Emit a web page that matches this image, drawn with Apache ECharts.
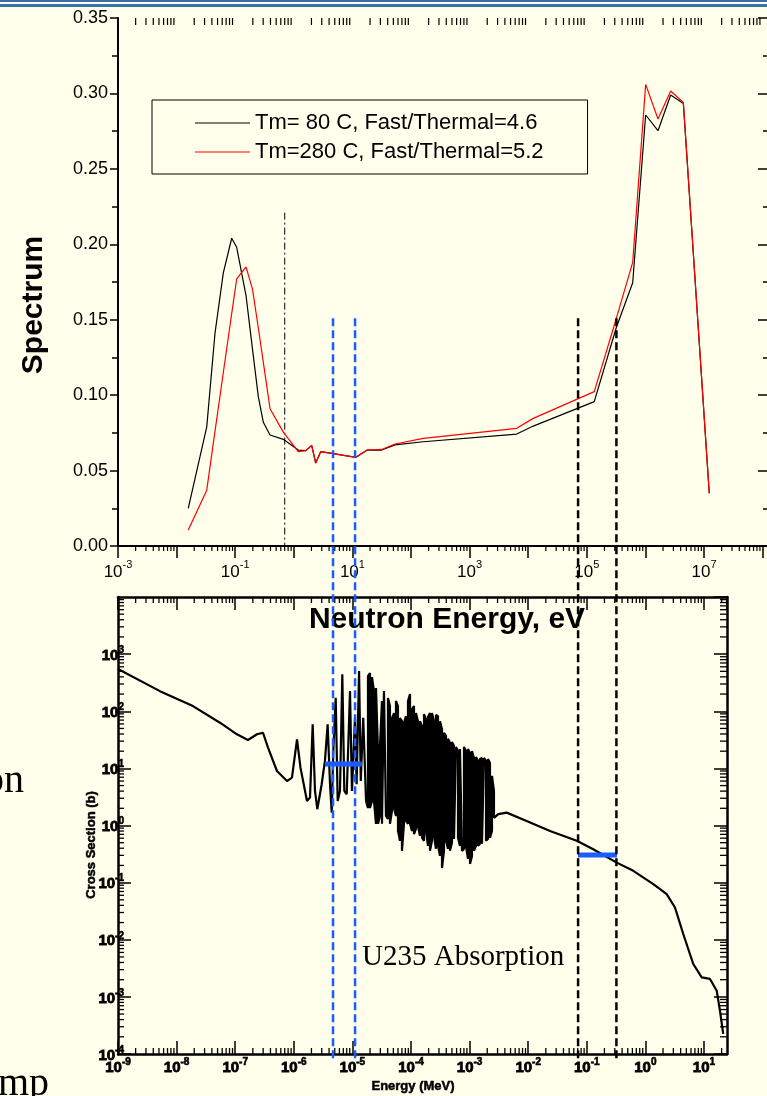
<!DOCTYPE html>
<html>
<head>
<meta charset="utf-8">
<script src="https://cdn.jsdelivr.net/npm/echarts@6/dist/echarts.min.js"></script>
<style>
html, body { margin: 0; padding: 0; background: #FFFFEB; }
#main { width: 767px; height: 1096px; }
</style>
</head>
<body>
<div id="main"></div>
<script>
// spectrum, upper plot (energy in eV)
var energyEv = [0.0158, 0.0327, 0.0452, 0.0627, 0.0871, 0.106, 0.153, 0.198, 0.248, 0.302, 0.393, 0.662, 1.19, 1.61, 2.02, 2.36, 2.88, 4.43, 11.5, 17.9, 31.6, 53.3, 162, 6370, 12200, 1.34e5, 3.2e5, 6.07e5, 1.01e6, 1.64e6, 2.70e6, 4.44e6, 1.23e7];
var spec80 = [0.025, 0.079, 0.141, 0.181, 0.204, 0.198, 0.166, 0.130, 0.099, 0.082, 0.0736, 0.0707, 0.0636, 0.0632, 0.0667, 0.0552, 0.0625, 0.0614, 0.0588, 0.0636, 0.0636, 0.067, 0.0691, 0.0742, 0.0795, 0.0957, 0.145, 0.1745, 0.2857, 0.2753, 0.299, 0.2934, 0.035];
var spec280 = [0.0106, 0.037, 0.076, 0.115, 0.154, 0.177, 0.185, 0.170, 0.1445, 0.1217, 0.091, 0.0755, 0.0625, 0.0632, 0.0667, 0.0548, 0.0625, 0.0614, 0.0588, 0.0636, 0.064, 0.0676, 0.0714, 0.078, 0.0846, 0.1023, 0.151, 0.188, 0.306, 0.283, 0.3016, 0.294, 0.035];
var legendNames = ['Tm= 80 C, Fast/Thermal=4.6', 'Tm=280 C, Fast/Thermal=5.2'];
var cadmiumEv = 0.7, cadmiumTop = 0.221;

// U235 absorption cross section, lower plot (energy in MeV, barn)
// 1/v part and first resolved resonances
var csEnergy = [1e-9, 5.2e-9, 1.9e-8, 5.5e-8, 1.07e-7, 1.65e-7, 2.35e-7, 2.98e-7, 3.63e-7, 5.16e-7, 7.66e-7, 9.3e-7, 1.135e-6, 1.30e-6, 1.68e-6, 1.89e-6, 2.10e-6, 2.30e-6, 2.52e-6, 2.99e-6, 3.40e-6, 3.78e-6, 4.15e-6, 4.44e-6, 4.72e-6, 5.19e-6, 5.61e-6, 6.14e-6, 6.73e-6, 7.28e-6, 8.0e-6, 9.1e-6, 9.84e-6, 1.107e-5, 1.18e-5, 1.30e-5, 1.39e-5, 1.53e-5, 1.71e-5];
var csValue = [547, 225, 123, 63, 39.5, 31.4, 39.5, 42, 23, 9.0, 6.0, 6.9, 32.3, 10.3, 2.69, 3.08, 59, 4.03, 1.93, 5.27, 13.5, 59, 5.27, 1.68, 20.1, 172, 2.69, 4.03, 442, 4.03, 3.52, 225, 4.03, 77, 5.27, 505, 6.0, 77, 2.69];
// dense resonance region: peak and dip at each energy
var resEnergy = [1.845e-5, 1.995e-5, 2.158e-5, 2.335e-5, 2.528e-5, 2.735e-5, 2.958e-5, 3.199e-5, 3.459e-5, 3.741e-5, 4.046e-5, 4.376e-5, 4.742e-5, 5.129e-5, 5.546e-5, 5.998e-5, 6.486e-5, 7.015e-5, 7.586e-5, 8.204e-5, 8.89e-5, 9.62e-5, 1.040e-4, 1.125e-4, 1.216e-4, 1.315e-4, 1.422e-4, 1.542e-4, 1.667e-4, 1.803e-4, 1.950e-4, 2.109e-4, 2.281e-4, 2.466e-4, 2.667e-4, 2.891e-4, 3.126e-4, 3.381e-4, 3.656e-4, 3.954e-4, 4.276e-4, 4.624e-4, 5.00e-4, 5.42e-4, 5.86e-4, 6.34e-4, 6.85e-4, 7.41e-4, 8.02e-4, 8.67e-4, 9.38e-4, 1.016e-3, 1.099e-3, 1.189e-3, 1.285e-3, 1.390e-3, 1.503e-3, 1.626e-3, 1.758e-3, 1.905e-3, 2.061e-3, 2.228e-3, 2.410e-3, 2.606e-3];
var resPeak = [412, 466, 396, 225, 255, 20.1, 24.6, 151, 225, 208, 170, 123, 76, 93, 151, 123, 76, 67, 62, 82, 151, 200, 109, 123, 93, 67, 67, 55, 89, 73, 79, 93, 93, 67, 86, 82, 67, 49, 42, 37, 33, 28, 29, 24.6, 23.7, 20.1, 21.8, 22.7, 23.7, 20.1, 21.8, 18.6, 20.1, 15.2, 15.8, 13.5, 14.6, 15.2, 15.2, 13.5, 14.6, 12.4, 7.4, 4.03];
var resDip = [2.03, 2.03, 2.69, 2.69, 1.07, 1.07, 1.47, 1.07, 1.07, 1.47, 1.30, 1.07, 1.80, 2.03, 1.47, 0.805, 0.54, 0.36, 1.07, 1.20, 1.07, 1.07, 0.805, 0.71, 0.87, 0.98, 0.66, 0.61, 0.54, 0.805, 0.44, 0.36, 0.54, 0.66, 0.39, 0.44, 0.294, 0.18, 0.36, 0.54, 0.39, 0.36, 0.50, 0.58, 0.61, 0.61, 0.44, 0.36, 0.39, 0.44, 0.26, 0.213, 0.294, 0.36, 0.44, 0.44, 0.48, 0.48, 0.50, 0.54, 0.58, 0.61, 0.805, 1.36];
// unresolved / fast part
var tailEnergy = [3.09e-3, 4.30e-3, 9.4e-3, 0.0236, 0.0673, 0.129, 0.324, 0.622, 1.365, 2.31, 3.2, 4.43, 6.56, 9.14, 12.65, 16.5, 18.75, 21.3];
var tailValue = [1.58, 1.68, 1.20, 0.80, 0.54, 0.385, 0.224, 0.161, 0.094, 0.063, 0.0367, 0.0126, 0.00376, 0.00219, 0.00206, 0.00128, 5.7e-4, 2.25e-4];

// averaged cross sections over the two windows
var barLowE = [3.4e-6, 1.45e-5], barLowValue = 11.9;
var barHighE = [0.0708, 0.327], barHighValue = 0.306;

// window edges in eV (dashed verticals through both plots)
var blueEdgesEv = [4.67, 11.1];
var blackEdgesEv = [7.1e4, 3.2e5];
var edgeTop = 0.151;

var topXMin = 1e-3, topXMax = 1.236e8;
var botXMin = 1e-9, botXMax = 24.7;
var botYMin = 1e-4, botYMax = 1e4;

var SANS = "'Liberation Sans', Arial, sans-serif";
var SERIF = "'Liberation Serif', 'Times New Roman', serif";
var BLUE = '#1a5cff';

function zip(a, b) {
    var out = [];
    for (var i = 0; i < a.length; i++) out.push([a[i], b[i]]);
    return out;
}
function expOf(v) { return Math.round(Math.log10(v)); }
function logMinor(lo, hi) {
    var out = [];
    for (var n = Math.floor(Math.log10(lo)); Math.pow(10, n) <= hi; n++) {
        for (var k = 2; k <= 9; k++) {
            var v = k * Math.pow(10, n);
            if (v > lo && v < hi) out.push(v);
        }
    }
    return out;
}
function tick(x1, y1, x2, y2, w) {
    return { type: 'line', silent: true, shape: { x1: x1, y1: y1, x2: x2, y2: y2 }, style: { stroke: '#000', lineWidth: w || 1 } };
}

// resonances drawn as vertical strokes, dip/peak order alternating
var u235 = zip(csEnergy, csValue);
resEnergy.forEach(function (e, i) {
    if (i % 2 === 0) { u235.push([e, resDip[i]], [e, resPeak[i]]); }
    else { u235.push([e, resPeak[i]], [e, resDip[i]]); }
});
u235 = u235.concat(zip(tailEnergy, tailValue));

var chart = echarts.init(document.getElementById('main'));

var supTop = {
    b: { fontSize: 17, fontFamily: SANS, color: '#000', lineHeight: 22, verticalAlign: 'bottom' },
    s: { fontSize: 11, fontFamily: SANS, color: '#000', lineHeight: 12, verticalAlign: 'top' }
};
var supBot = {
    b: { fontSize: 15, fontFamily: SANS, fontWeight: 'bold', color: '#000', lineHeight: 18, verticalAlign: 'bottom', textBorderColor: '#000', textBorderWidth: 0.8 },
    s: { fontSize: 10, fontFamily: SANS, fontWeight: 'bold', color: '#000', lineHeight: 10, verticalAlign: 'top', textBorderColor: '#000', textBorderWidth: 0.6 }
};

var option = {
    backgroundColor: '#FFFFEB',
    animation: false,
    grid: [
        { left: 118, top: 18, width: 650, height: 528, containLabel: false, outerBoundsMode: 'none' },
        { left: 118, top: 597, width: 609, height: 457, containLabel: false, outerBoundsMode: 'none' }
    ],
    legend: {
        orient: 'vertical', left: 152, top: 100,
        padding: [12, 44, 11, 43], itemGap: 7, itemWidth: 55, itemHeight: 1.2, icon: 'rect',
        borderColor: '#000', borderWidth: 1, borderRadius: 0, backgroundColor: 'transparent',
        selectedMode: false,
        textStyle: { fontSize: 22, fontFamily: SANS, color: '#000', lineHeight: 22 },
        data: legendNames
    },
    xAxis: [
        {
            type: 'log', gridIndex: 0, min: topXMin, max: topXMax, interval: 1,
            name: 'Neutron Energy, eV', nameLocation: 'middle', nameGap: 59,
            nameTextStyle: { fontSize: 30, fontWeight: 'bold', fontFamily: SANS, color: '#000', padding: [0, 0, 0, 8] },
            axisLine: { lineStyle: { color: '#000', width: 2 } },
            axisTick: { inside: false, length: 8, lineStyle: { color: '#000', width: 1.5 } },
            splitLine: { show: false },
            axisLabel: {
                margin: 13, showMaxLabel: false, rich: supTop,
                formatter: function (v) { var e = expOf(v); return e % 2 !== 0 ? '{b|10}{s|' + e + '}' : ''; }
            }
        },
        {
            type: 'log', gridIndex: 0, position: 'top', min: topXMin, max: topXMax, interval: 1,
            axisLine: { lineStyle: { color: '#000', width: 2 } },
            axisTick: { inside: true, length: 12, lineStyle: { color: '#000', width: 1.5 } },
            splitLine: { show: false }, axisLabel: { show: false }
        },
        {
            type: 'log', gridIndex: 1, min: botXMin, max: botXMax, interval: 1,
            axisLine: { lineStyle: { color: '#000', width: 2.5 } },
            axisTick: { inside: true, length: 13, lineStyle: { color: '#000', width: 1.5 } },
            splitLine: { show: false },
            axisLabel: {
                margin: 3, showMaxLabel: false, rich: supBot,
                formatter: function (v) { return '{b|10}{s|' + expOf(v) + '}'; }
            }
        },
        {
            type: 'log', gridIndex: 1, position: 'top', min: botXMin, max: botXMax, interval: 1,
            axisLine: { lineStyle: { color: '#000', width: 2.5 } },
            axisTick: { inside: true, length: 13, lineStyle: { color: '#000', width: 1.5 } },
            splitLine: { show: false }, axisLabel: { show: false }
        }
    ],
    yAxis: [
        {
            type: 'value', gridIndex: 0, min: 0, max: 0.35, interval: 0.05,
            axisLine: { show: true, lineStyle: { color: '#000', width: 2 } },
            axisTick: { show: true, inside: false, length: 8, lineStyle: { color: '#000', width: 1.5 } },
            minorTick: { show: true, splitNumber: 2, length: 6, lineStyle: { color: '#000', width: 1.5 } },
            splitLine: { show: false },
            axisLabel: { margin: 10, fontSize: 18, fontFamily: SANS, color: '#000', formatter: function (v) { return v.toFixed(2); } }
        },
        {
            type: 'value', gridIndex: 0, position: 'right', min: 0, max: 0.35, interval: 0.05,
            axisLine: { show: true, lineStyle: { color: '#000', width: 2 } },
            axisTick: { show: true, inside: true, length: 10, lineStyle: { color: '#000', width: 1.5 } },
            minorTick: { show: true, splitNumber: 2, length: 5, lineStyle: { color: '#000', width: 1.5 } },
            splitLine: { show: false }, axisLabel: { show: false }
        },
        {
            type: 'log', gridIndex: 1, min: botYMin, max: botYMax, interval: 1,
            axisLine: { show: true, lineStyle: { color: '#000', width: 2.5 } },
            axisTick: { show: true, inside: true, length: 13, lineStyle: { color: '#000', width: 1.5 } },
            splitLine: { show: false },
            axisLabel: {
                margin: -6, showMaxLabel: false, rich: supBot,
                formatter: function (v) { return '{b|10}{s|' + expOf(v) + '}'; }
            }
        },
        {
            type: 'log', gridIndex: 1, position: 'right', min: botYMin, max: botYMax, interval: 1,
            axisLine: { show: true, lineStyle: { color: '#000', width: 2.5 } },
            axisTick: { show: true, inside: true, length: 13, lineStyle: { color: '#000', width: 1.5 } },
            splitLine: { show: false }, axisLabel: { show: false }
        }
    ],
    series: [
        {
            name: legendNames[0], type: 'line', xAxisIndex: 0, yAxisIndex: 0,
            data: zip(energyEv, spec80), showSymbol: false, symbol: 'none',
            itemStyle: { color: '#000' }, lineStyle: { color: '#000', width: 1.2 }, z: 3
        },
        {
            name: legendNames[1], type: 'line', xAxisIndex: 0, yAxisIndex: 0,
            data: zip(energyEv, spec280), showSymbol: false, symbol: 'none',
            itemStyle: { color: '#ff0000' }, lineStyle: { color: '#ff0000', width: 1.2 }, z: 4
        },
        {
            name: 'cadmium', type: 'line', xAxisIndex: 0, yAxisIndex: 0,
            data: [[cadmiumEv, cadmiumTop], [cadmiumEv, 0]], symbol: 'none',
            lineStyle: { color: '#000', width: 1, type: [7, 3, 2, 3] }
        },
        {
            name: 'U235', type: 'line', xAxisIndex: 2, yAxisIndex: 2,
            data: u235, symbol: 'none',
            lineStyle: { color: '#000', width: 2.2, join: 'bevel' }
        },
        {
            name: 'avgLow', type: 'line', xAxisIndex: 2, yAxisIndex: 2,
            data: [[barLowE[0], barLowValue], [barLowE[1], barLowValue]], symbol: 'none',
            lineStyle: { color: BLUE, width: 5, cap: 'butt' }, z: 5
        },
        {
            name: 'avgHigh', type: 'line', xAxisIndex: 2, yAxisIndex: 2,
            data: [[barHighE[0], barHighValue], [barHighE[1], barHighValue]], symbol: 'none',
            lineStyle: { color: BLUE, width: 5, cap: 'butt' }, z: 5
        },
        {
            name: 'minorTop', type: 'custom', xAxisIndex: 0, yAxisIndex: 0, data: [[1, 0.1]], silent: true,
            renderItem: function (params, api) {
                var cs = params.coordSys, kids = [];
                logMinor(topXMin, topXMax).forEach(function (v) {
                    var x = api.coord([v, 0.1])[0];
                    kids.push(tick(x, cs.y + cs.height, x, cs.y + cs.height + 5, 1.2));
                    kids.push(tick(x, cs.y, x, cs.y + 7, 1.2));
                });
                return { type: 'group', children: kids };
            }
        },
        {
            name: 'minorBottom', type: 'custom', xAxisIndex: 2, yAxisIndex: 2, data: [[1, 1]], silent: true,
            renderItem: function (params, api) {
                var cs = params.coordSys, kids = [];
                logMinor(botXMin, botXMax).forEach(function (v) {
                    var x = api.coord([v, 1])[0];
                    kids.push(tick(x, cs.y + cs.height, x, cs.y + cs.height - 6, 1.3));
                    kids.push(tick(x, cs.y, x, cs.y + 6, 1.3));
                });
                logMinor(botYMin, botYMax).forEach(function (v) {
                    var y = api.coord([1e-5, v])[1];
                    kids.push(tick(cs.x, y, cs.x + 6, y, 1.3));
                    kids.push(tick(cs.x + cs.width, y, cs.x + cs.width - 7, y, 1.3));
                });
                return { type: 'group', children: kids };
            }
        }
    ],
    graphic: [
        { type: 'rect', shape: { x: 0, y: 0, width: 767, height: 2 }, style: { fill: '#3d6fa8' }, silent: true },
        { type: 'rect', shape: { x: 0, y: 4, width: 767, height: 3 }, style: { fill: '#3d6fa8' }, silent: true },
        { type: 'text', x: 34, y: 305, rotation: Math.PI / 2, silent: true,
          style: { text: 'Spectrum', font: 'bold 30px ' + SANS, fill: '#000', align: 'center', verticalAlign: 'middle' } },
        { type: 'text', x: 91, y: 845, rotation: Math.PI / 2, silent: true,
          style: { text: 'Cross Section (b)', font: 'bold 13px ' + SANS, fill: '#000', align: 'center', verticalAlign: 'middle', stroke: '#000', lineWidth: 0.5 } },
        { type: 'text', x: 413, y: 1086, silent: true,
          style: { text: 'Energy (MeV)', font: 'bold 13px ' + SANS, fill: '#000', align: 'center', verticalAlign: 'middle', stroke: '#000', lineWidth: 0.5 } },
        { type: 'text', x: 362, y: 957, silent: true,
          style: { text: 'U235 Absorption', font: '29px ' + SERIF, fill: '#000', align: 'left', verticalAlign: 'middle' } },
        { type: 'text', x: 24, y: 781, silent: true,
          style: { text: 'on', font: '40px ' + SERIF, fill: '#000', align: 'right', verticalAlign: 'middle' } },
        { type: 'text', x: -2, y: 1084, silent: true,
          style: { text: 'mp', font: '40px ' + SERIF, fill: '#000', align: 'left', verticalAlign: 'middle' } }
    ]
};

chart.setOption(option);

// dashed window edges, placed through both plots' energy scales
function edgeLine(ev, color) {
    var x = chart.convertToPixel({ xAxisIndex: 0 }, ev);
    var y1 = chart.convertToPixel({ yAxisIndex: 0 }, edgeTop);
    var y2 = chart.convertToPixel({ yAxisIndex: 2 }, botYMin) + 7;
    return {
        type: 'line', silent: true, z: 100,
        shape: { x1: x, y1: y1, x2: x, y2: y2 },
        style: { stroke: color, lineWidth: 2.5, lineDash: [8, 4] }
    };
}
var edges = [];
blueEdgesEv.forEach(function (e) { edges.push(edgeLine(e, BLUE)); });
blackEdgesEv.forEach(function (e) { edges.push(edgeLine(e, '#000')); });
chart.setOption({ graphic: option.graphic.concat(edges) });
</script>
</body>
</html>
